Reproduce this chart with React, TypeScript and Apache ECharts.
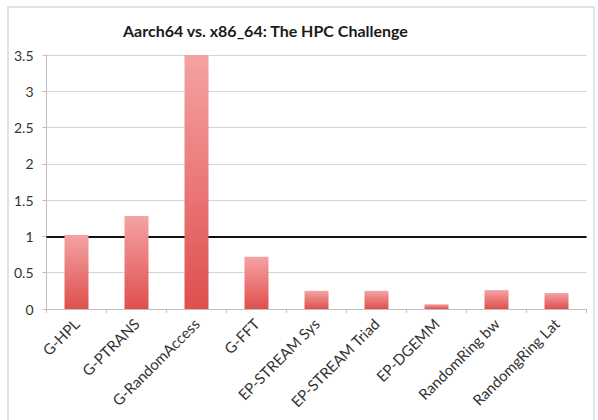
import React, { useEffect, useRef } from "react";
import * as echarts from "echarts";

const categories = [
  "G-HPL",
  "G-PTRANS",
  "G-RandomAccess",
  "G-FFT",
  "EP-STREAM Sys",
  "EP-STREAM Triad",
  "EP-DGEMM",
  "RandomRing bw",
  "RandomgRing Lat",
];
const ratios = [1.02, 1.28, 3.5, 0.72, 0.25, 0.25, 0.065, 0.26, 0.22];
const referenceLevel = 1;
const yTicks = { min: 0, max: 3.5, interval: 0.5 };

const FONT = "Lato, 'Open Sans', sans-serif";

export default function App() {
  const ref = useRef<HTMLDivElement>(null);
  useEffect(() => {
    if (!ref.current) return;
    const chart = echarts.init(ref.current, undefined, { renderer: "svg" });
    chart.setOption({
      animation: false,
      backgroundColor: "#ffffff",
      graphic: [
        {
          type: "rect",
          shape: { x: 8, y: 7, width: 586, height: 430 },
          style: { fill: "none", stroke: "#d9d9d9", lineWidth: 1.5 },
          z: -1,
          silent: true,
        },
      ],
      title: {
        text: "Aarch64 vs. x86_64: The HPC Challenge",
        left: 118,
        top: 17,
        textStyle: {
          fontFamily: FONT,
          fontWeight: "bold",
          fontSize: 16,
          color: "#1a1a1a",
        },
      },
      grid: { left: 46.5, right: 11.5, top: 55, bottom: 111, containLabel: false },
      xAxis: {
        type: "category",
        data: categories,
        axisLine: { lineStyle: { color: "#bfbfbf", width: 1 } },
        axisTick: { show: true, length: 4, lineStyle: { color: "#bfbfbf" } },
        axisLabel: {
          rotate: 45,
          interval: 0,
          fontFamily: FONT,
          fontSize: 15,
          color: "#333333",
          margin: 12,
        },
      },
      yAxis: {
        type: "value",
        min: yTicks.min,
        max: yTicks.max,
        interval: yTicks.interval,
        axisLine: { show: true, lineStyle: { color: "#bfbfbf", width: 1 } },
        axisTick: { show: true, length: 4, lineStyle: { color: "#bfbfbf" } },
        axisLabel: {
          fontFamily: FONT,
          fontSize: 14,
          color: "#333333",
          margin: 13,
          formatter: (v: number) => String(v),
        },
        splitLine: { lineStyle: { color: "#d4d4d4", width: 1 } },
      },
      series: [
        {
          type: "bar",
          data: ratios,
          barWidth: "40%",
          z: 2,
          itemStyle: {
            color: new echarts.graphic.LinearGradient(0, 0, 0, 1, [
              { offset: 0, color: "#f4a3a3" },
              { offset: 1, color: "#df4f4d" },
            ]),
          },
          markLine: {
            z: 1,
            silent: true,
            symbol: "none",
            label: { show: false },
            lineStyle: { color: "#111111", width: 2, type: "solid" },
            data: [{ yAxis: referenceLevel }],
          },
        },
      ],
    });
    return () => chart.dispose();
  }, []);
  return <div ref={ref} style={{ width: 598, height: 420, position: "absolute", left: 0, top: 0 }} />;
}
